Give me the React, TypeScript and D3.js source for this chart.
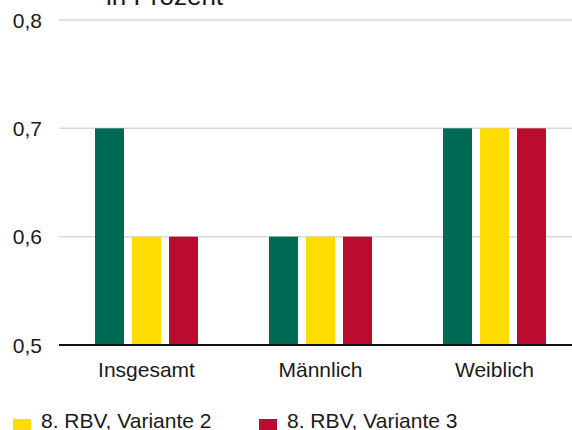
import React from 'react';
import * as d3 from 'd3';

const categories = ['Insgesamt', 'Männlich', 'Weiblich'];
const seriesNames = ['8. RBV, Variante 1', '8. RBV, Variante 2', '8. RBV, Variante 3'];
const variante1 = [0.7, 0.6, 0.7];
const variante2 = [0.6, 0.6, 0.7];
const variante3 = [0.6, 0.6, 0.7];
const yTicks = [0.5, 0.6, 0.7, 0.8];
const legendItems = ['8. RBV, Variante 2', '8. RBV, Variante 3'];

const colors = ['#006B54', '#FFDD00', '#BA0C2F'];

function App() {
  const width = 572;
  const height = 430;
  const left = 59;
  const top = 20;
  const bottom = 345;

  const values = [variante1, variante2, variante3];

  const xScale = d3.scaleBand<string>().domain(categories).range([59.5, 581.5]);
  const inner = d3
    .scaleBand<string>()
    .domain(seriesNames)
    .range([35.5, 138.5])
    .paddingInner(8 / 37);
  const yScale = d3.scaleLinear().domain([0.5, 0.8]).range([bottom, top]);
  const fmt = (v: number) => d3.format('.1f')(v).replace('.', ',');

  const font = '"Liberation Sans", Arial, sans-serif';

  return (
    <svg
      width={width}
      height={height}
      style={{ position: 'absolute', left: 0, top: 0 }}
      fontFamily={font}
    >
      <text x={106} y={5} fontSize={26} fill="#1a1a1a">
        in Prozent
      </text>
      <g className="grid">
        {yTicks.map((t) => (
          <g key={t}>
            {t !== 0.5 && (
              <line
                x1={left}
                x2={width}
                y1={yScale(t)}
                y2={yScale(t)}
                stroke="#d9d9d9"
                strokeWidth={1.5}
              />
            )}
            <text
              x={42}
              y={yScale(t)}
              dy="0.36em"
              textAnchor="end"
              fontSize={21}
              fill="#1a1a1a"
            >
              {fmt(t)}
            </text>
          </g>
        ))}
      </g>
      <g className="bars">
        {categories.map((c, ci) =>
          seriesNames.map((s, si) => {
            const v = values[si][ci];
            return (
              <rect
                key={c + s}
                x={(xScale(c) ?? 0) + (inner(s) ?? 0)}
                y={yScale(v)}
                width={inner.bandwidth()}
                height={yScale(0.5) - yScale(v)}
                fill={colors[si]}
              />
            );
          })
        )}
      </g>
      <line x1={left} x2={width} y1={bottom} y2={bottom} stroke="#111" strokeWidth={2} />
      {categories.map((c) => (
        <text
          key={c}
          x={(xScale(c) ?? 0) + xScale.bandwidth() / 2}
          y={377}
          textAnchor="middle"
          fontSize={21}
          fill="#1a1a1a"
        >
          {c}
        </text>
      ))}
      <g className="legend">
        {legendItems.map((name, i) => {
          const x = 13 + i * 246;
          return (
            <g key={name} transform={`translate(${x} 419)`}>
              <rect width={18} height={18} fill={colors[seriesNames.indexOf(name)]} />
              <text x={28} y={9} fontSize={21} fill="#1a1a1a">
                {name}
              </text>
            </g>
          );
        })}
      </g>
    </svg>
  );
}

export default App;
